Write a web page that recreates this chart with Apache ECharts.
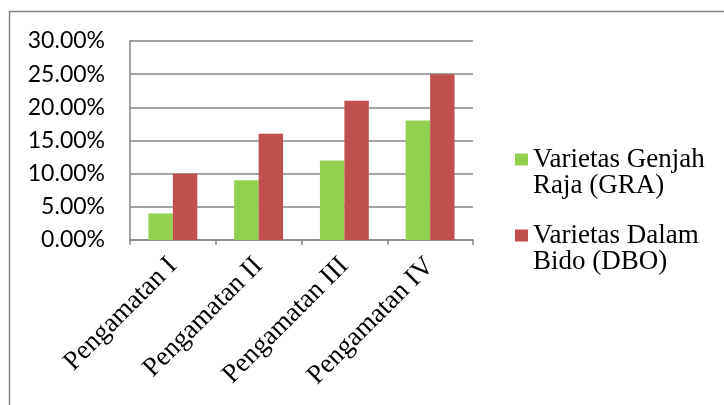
<!DOCTYPE html>
<html>
<head>
<meta charset="utf-8">
<script src="https://cdn.jsdelivr.net/npm/echarts@6/dist/echarts.min.js"></script>
<style>
  html, body { margin: 0; padding: 0; background: #fff; }
  #chart { width: 724px; height: 405px; }
</style>
</head>
<body>
<div id="chart"></div>
<script>
// data (percent)
const categories = ['Pengamatan I', 'Pengamatan II', 'Pengamatan III', 'Pengamatan IV']
const genjahRaja = [4, 9, 12, 18]
const dalamBido = [10, 16, 21, 25]
const seriesNames = ['Varietas Genjah\nRaja (GRA)', 'Varietas Dalam\nBido (DBO)']

const myChart = echarts.init(document.getElementById('chart'))

const axisGray = '#868686'

const option = {
  backgroundColor: '#fff',
  animation: false,
  // outer frame of the chart area
  graphic: [
    {
      type: 'rect',
      shape: { x: 9.5, y: 11.5, width: 900, height: 600 },
      style: { fill: 'none', stroke: axisGray, lineWidth: 1.5 },
      silent: true
    }
  ],
  legend: {
    orient: 'vertical',
    left: 515,
    top: 120,
    padding: 0,
    itemWidth: 13,
    itemHeight: 12,
    itemGap: -3,
    icon: 'rect',
    // blank first line keeps the marker level with the first text line
    formatter: (name) => `\n${name}`,
    textStyle: {
      fontFamily: 'Liberation Serif',
      fontSize: 27,
      lineHeight: 26,
      color: '#000'
    },
    data: seriesNames
  },
  grid: {
    left: 130,
    right: 251,
    top: 41,
    bottom: 165,
    containLabel: false
  },
  xAxis: {
    type: 'category',
    data: categories,
    axisLine: { lineStyle: { color: axisGray, width: 1.5 } },
    axisTick: { show: true, length: 5, lineStyle: { color: axisGray, width: 1.5 } },
    axisLabel: {
      rotate: 45,
      margin: 22,
      interval: 0,
      fontFamily: 'Liberation Serif',
      fontSize: 27,
      color: '#000'
    }
  },
  yAxis: {
    type: 'value',
    min: 0,
    max: 30,
    interval: 5,
    axisLine: { show: true, lineStyle: { color: axisGray, width: 1.5 } },
    axisTick: { show: false },
    splitLine: { lineStyle: { color: axisGray, width: 1.5 } },
    axisLabel: {
      margin: 25,
      fontFamily: 'Lato',
      fontSize: 23,
      color: '#000',
      formatter: (value) => `${value.toFixed(2)}%`
    }
  },
  series: [
    {
      name: seriesNames[0],
      type: 'bar',
      data: genjahRaja,
      barGap: '0%',
      barCategoryGap: '43%',
      itemStyle: { color: '#92D050' }
    },
    {
      name: seriesNames[1],
      type: 'bar',
      data: dalamBido,
      barGap: '0%',
      barCategoryGap: '43%',
      itemStyle: { color: '#C0504D' }
    }
  ]
}

myChart.setOption(option)
</script>
</body>
</html>
